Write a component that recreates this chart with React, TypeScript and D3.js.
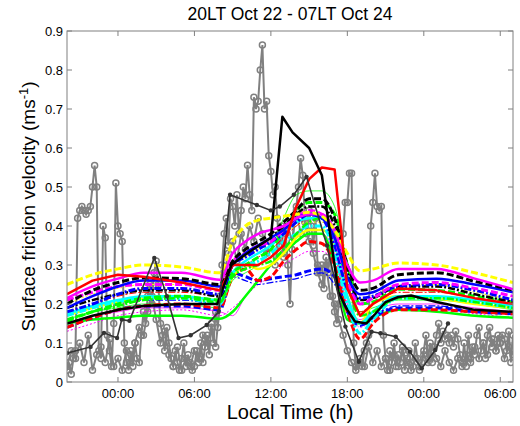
import React from "react";
import * as d3 from "d3";

// ---------- DATA ----------
const TITLE = "20LT Oct 22 - 07LT Oct 24";
const X_TICKS = [0, 6, 12, 18, 24, 30];
const X_TICK_LABELS = ["00:00", "06:00", "12:00", "18:00", "00:00", "06:00"];
const Y_TICKS = [0, 0.1, 0.2, 0.3, 0.4, 0.5, 0.6, 0.7, 0.8, 0.9];

// hours (relative to 00 LT Oct 23) of model output samples
const MODEL_HOURS = [-4, -2, 0, 2, 5, 8, 9, 10, 11, 12, 13, 14, 15, 16, 17, 18, 19, 20, 22, 25, 28, 31];

const yellowDashed = [0.25, 0.275, 0.29, 0.3, 0.295, 0.28, 0.36, 0.4, 0.415, 0.42, 0.425, 0.43, 0.435, 0.425, 0.39, 0.33, 0.285, 0.29, 0.305, 0.3, 0.28, 0.255];
const magentaSolid = [0.215, 0.245, 0.265, 0.28, 0.28, 0.262, 0.33, 0.36, 0.38, 0.39, 0.4, 0.42, 0.43, 0.43, 0.39, 0.3, 0.255, 0.26, 0.29, 0.29, 0.265, 0.238];
const blackDashed = [0.2, 0.235, 0.255, 0.267, 0.265, 0.25, 0.31, 0.34, 0.36, 0.38, 0.41, 0.44, 0.47, 0.47, 0.42, 0.3, 0.235, 0.24, 0.275, 0.28, 0.258, 0.236];
const blueSolid = [0.19, 0.22, 0.245, 0.26, 0.26, 0.245, 0.3, 0.33, 0.35, 0.37, 0.39, 0.42, 0.43, 0.42, 0.37, 0.27, 0.225, 0.23, 0.26, 0.265, 0.25, 0.23];
const magentaDashed = [0.21, 0.23, 0.245, 0.25, 0.25, 0.235, 0.31, 0.33, 0.35, 0.36, 0.39, 0.42, 0.44, 0.43, 0.37, 0.26, 0.2, 0.215, 0.25, 0.255, 0.24, 0.22];
const blueDashDot = [0.18, 0.2, 0.225, 0.24, 0.24, 0.225, 0.3, 0.32, 0.34, 0.36, 0.38, 0.41, 0.43, 0.42, 0.35, 0.24, 0.215, 0.22, 0.245, 0.25, 0.235, 0.21];
const blackDashDot = [0.19, 0.21, 0.225, 0.235, 0.235, 0.22, 0.3, 0.33, 0.35, 0.37, 0.4, 0.43, 0.45, 0.45, 0.4, 0.28, 0.21, 0.215, 0.245, 0.245, 0.225, 0.205];
const greenDashed = [0.16, 0.18, 0.2, 0.215, 0.22, 0.21, 0.28, 0.3, 0.32, 0.34, 0.39, 0.44, 0.46, 0.46, 0.43, 0.3, 0.2, 0.205, 0.238, 0.235, 0.22, 0.205];
const cyanDashed = [0.17, 0.19, 0.205, 0.215, 0.215, 0.2, 0.28, 0.3, 0.31, 0.33, 0.36, 0.38, 0.4, 0.4, 0.33, 0.2, 0.125, 0.16, 0.215, 0.215, 0.205, 0.19];
const greenDashDot = [0.155, 0.18, 0.195, 0.21, 0.215, 0.205, 0.27, 0.29, 0.3, 0.31, 0.34, 0.38, 0.41, 0.42, 0.38, 0.25, 0.17, 0.18, 0.215, 0.215, 0.205, 0.19];
const redDashed = [0.14, 0.165, 0.185, 0.195, 0.2, 0.19, 0.27, 0.29, 0.26, 0.27, 0.31, 0.34, 0.36, 0.355, 0.3, 0.18, 0.11, 0.15, 0.185, 0.185, 0.18, 0.175];
const blueDashed = [0.14, 0.165, 0.185, 0.195, 0.195, 0.185, 0.28, 0.27, 0.26, 0.265, 0.27, 0.275, 0.285, 0.29, 0.27, 0.18, 0.145, 0.165, 0.19, 0.19, 0.18, 0.175];
const greenSolid = [0.15, 0.16, 0.165, 0.17, 0.17, 0.162, 0.18, 0.22, 0.26, 0.3, 0.33, 0.36, 0.38, 0.38, 0.3, 0.16, 0.15, 0.165, 0.185, 0.18, 0.17, 0.165];
const yellowSolid = [0.17, 0.19, 0.205, 0.215, 0.22, 0.21, 0.27, 0.3, 0.29, 0.3, 0.33, 0.37, 0.39, 0.39, 0.35, 0.22, 0.15, 0.2, 0.22, 0.215, 0.2, 0.19];
const cyanSolid = [0.175, 0.195, 0.21, 0.22, 0.22, 0.21, 0.28, 0.31, 0.33, 0.35, 0.38, 0.41, 0.42, 0.42, 0.36, 0.22, 0.15, 0.18, 0.22, 0.22, 0.21, 0.195];
const magentaDotted = [0.13, 0.15, 0.17, 0.18, 0.185, 0.17, 0.19, 0.22, 0.25, 0.27, 0.3, 0.32, 0.335, 0.335, 0.3, 0.2, 0.14, 0.16, 0.185, 0.185, 0.175, 0.165];
const blueDashDotThin = [0.17, 0.19, 0.205, 0.21, 0.21, 0.2, 0.27, 0.26, 0.25, 0.255, 0.26, 0.265, 0.275, 0.28, 0.25, 0.18, 0.15, 0.17, 0.195, 0.195, 0.185, 0.175];
const greenThin = [0.16, 0.18, 0.19, 0.2, 0.2, 0.19, 0.26, 0.28, 0.3, 0.34, 0.42, 0.48, 0.49, 0.49, 0.45, 0.3, 0.18, 0.19, 0.21, 0.21, 0.2, 0.185];
const magentaThin = [0.15, 0.17, 0.18, 0.19, 0.19, 0.18, 0.17, 0.22, 0.26, 0.3, 0.33, 0.36, 0.38, 0.38, 0.33, 0.2, 0.16, 0.18, 0.2, 0.2, 0.19, 0.18];
const yellowDotted = [0.2, 0.225, 0.24, 0.25, 0.25, 0.24, 0.3, 0.32, 0.34, 0.36, 0.38, 0.4, 0.41, 0.41, 0.37, 0.25, 0.2, 0.22, 0.25, 0.25, 0.23, 0.21];
const redDashDotThin = [0.18, 0.2, 0.22, 0.23, 0.23, 0.22, 0.28, 0.3, 0.32, 0.34, 0.37, 0.4, 0.42, 0.42, 0.38, 0.26, 0.18, 0.2, 0.23, 0.23, 0.215, 0.2];
const redSolid = [0.225, 0.26, 0.275, 0.27, 0.255, 0.235, 0.3, 0.3, 0.3, 0.32, 0.35, 0.45, 0.52, 0.55, 0.545, 0.24, 0.17, 0.2, 0.24, 0.235, 0.215, 0.2];

// black solid model (own sample hours)
const blackSolidHours = [-4, -2, 0, 2, 5, 7.8, 8.9, 9.7, 12, 12.9, 13.7, 15, 16, 17.3, 18, 18.6, 19.5, 20.2, 21, 22, 23, 25, 28, 31];
const blackSolid = [0.15, 0.17, 0.185, 0.195, 0.2, 0.2, 0.3, 0.32, 0.37, 0.68, 0.64, 0.6, 0.53, 0.23, 0.185, 0.155, 0.15, 0.175, 0.205, 0.218, 0.222, 0.205, 0.185, 0.18];

// grey observations, 10-minute samples starting at -4 h
const OBS1_START = -4;
const OBS1_STEP = 1 / 6;
const obs1 = [
  0.03, 0.05, 0.02, 0.06, 0.08, 0.42,
  0.44, 0.45, 0.44, 0.43, 0.44, 0.45,
  0.50, 0.555, 0.50, 0.08, 0.06, 0.40,
  0.37, 0.12, 0.08, 0.04, 0.15, 0.51,
  0.40, 0.38, 0.36, 0.10, 0.05, 0.03,
  0.08, 0.04, 0.10, 0.06, 0.05, 0.12,
  0.18, 0.15, 0.22, 0.25, 0.20, 0.28,
  0.31, 0.25, 0.15, 0.12, 0.08, 0.14,
  0.10, 0.06, 0.04, 0.08, 0.05, 0.03,
  0.06, 0.10, 0.04, 0.07, 0.05, 0.03,
  0.04, 0.08, 0.06, 0.10, 0.05, 0.09,
  0.12, 0.07, 0.15, 0.10, 0.18, 0.14,
  0.22, 0.30, 0.38, 0.42, 0.35, 0.47,
  0.45, 0.40, 0.48, 0.38, 0.44, 0.50,
  0.47, 0.556, 0.48, 0.44, 0.73, 0.70,
  0.72, 0.80, 0.864, 0.70, 0.72, 0.58,
  0.54, 0.48, 0.50, 0.42, 0.35, 0.40,
  0.32, 0.38, 0.30, 0.20, 0.34, 0.42,
  0.45, 0.50, 0.574, 0.53, 0.42, 0.38,
  0.44, 0.40, 0.35, 0.42, 0.30, 0.28,
  0.30, 0.24, 0.32, 0.28, 0.35, 0.22,
  0.18, 0.15, 0.20, 0.30, 0.38, 0.46,
  0.46, 0.535, 0.535, 0.10, 0.04, 0.05,
  0.05, 0.04, 0.08, 0.10, 0.12, 0.40,
  0.46, 0.535, 0.45, 0.44, 0.45, 0.12,
  0.06, 0.03, 0.08, 0.05, 0.10, 0.04,
  0.07, 0.05, 0.09, 0.03, 0.06, 0.08,
  0.05, 0.04, 0.10, 0.06, 0.03, 0.05,
  0.08, 0.12, 0.06, 0.10, 0.05, 0.09,
  0.12, 0.15, 0.10, 0.13, 0.11, 0.12,
  0.10, 0.12, 0.09, 0.13, 0.11, 0.07,
  0.05, 0.10, 0.04, 0.12, 0.06, 0.09,
  0.07, 0.12, 0.14, 0.08, 0.10, 0.06,
  0.12, 0.14, 0.09, 0.11, 0.08, 0.12,
  0.10, 0.12, 0.11, 0.08, 0.13, 0.05,
  0.12,
];

// second grey record, 20-minute samples starting at -4 h
const OBS2_START = -4;
const OBS2_STEP = 1 / 3;
const obs2 = [
  0.04, 0.08, 0.06, 0.10, 0.05, 0.12, 0.03, 0.07, 0.09, 0.05, 0.11, 0.04,
  0.06, 0.03, 0.08, 0.05, 0.10, 0.14, 0.12, 0.18, 0.22, 0.16, 0.10, 0.13,
  0.07, 0.04, 0.09, 0.03, 0.06, 0.04, 0.08, 0.05, 0.12, 0.10, 0.14, 0.09,
  0.20, 0.28, 0.33, 0.36, 0.31, 0.38, 0.34, 0.40, 0.36, 0.42, 0.38, 0.33,
  0.36, 0.30, 0.38, 0.33, 0.40, 0.36, 0.44, 0.38, 0.41, 0.36, 0.33, 0.28,
  0.25, 0.30, 0.22, 0.20, 0.16, 0.12, 0.08, 0.05, 0.03, 0.06, 0.04, 0.09,
  0.05, 0.08, 0.04, 0.06, 0.03, 0.07, 0.04, 0.08, 0.05, 0.03, 0.06, 0.04,
  0.07, 0.05, 0.09, 0.06, 0.04, 0.08, 0.05, 0.03, 0.06, 0.04, 0.07, 0.05,
  0.09, 0.06, 0.10, 0.07, 0.11, 0.08, 0.10, 0.06, 0.09, 0.07,
];

// dark-grey sparse observations
const darkHours = [-4, -2.15, -1.1, -0.07, 0.3, 0.9, 2.85, 3.84, 4.75, 5.7, 6.96, 7.9, 8.8, 10.9, 12.0, 12.7, 13.8, 14.8, 16.4, 17.85, 18.9, 19.9, 20.6, 21.8, 22.9, 23.84, 24.9, 25.9];
const darkValues = [0.074, 0.09, 0.126, 0.113, 0.16, 0.157, 0.318, 0.22, 0.113, 0.12, 0.146, 0.18, 0.48, 0.454, 0.44, 0.45, 0.48, 0.526, 0.35, 0.142, 0.052, 0.129, 0.125, 0.116, 0.078, 0.035, 0.082, 0.15];

// ---------- STYLES ----------
const DASH = "7,3";
const DASHDOT = "7,2,2,2";
const DOT = "2,2";
const modelStyles = [
  { v: magentaDotted, c: "#ff00ff", w: 1, d: DOT },
  { v: magentaThin, c: "#ff00ff", w: 0.8, d: null },
  { v: blueDashDotThin, c: "#0000ff", w: 1.2, d: DASHDOT },
  { v: greenThin, c: "#00ff00", w: 0.8, d: null },
  { v: yellowDotted, c: "#ffff00", w: 1, d: DOT },
  { v: redDashDotThin, c: "#ff0000", w: 1, d: DASHDOT },
  { v: greenSolid, c: "#00ff00", w: 2.5, d: null },
  { v: blueDashed, c: "#0000ff", w: 3, d: DASH },
  { v: redDashed, c: "#ff0000", w: 3, d: DASH },
  { v: yellowSolid, c: "#ffff00", w: 2.5, d: null },
  { v: cyanSolid, c: "#00ffff", w: 2.5, d: null },
  { v: cyanDashed, c: "#00ffff", w: 3, d: DASHDOT },
  { v: greenDashDot, c: "#00ff00", w: 2.5, d: DASHDOT },
  { v: greenDashed, c: "#00ff00", w: 3, d: DASH },
  { v: blackDashDot, c: "#000000", w: 2.5, d: DASHDOT },
  { v: blueDashDot, c: "#0000ff", w: 3, d: DASHDOT },
  { v: magentaDashed, c: "#ff00ff", w: 3, d: DASH },
  { v: blueSolid, c: "#0000ff", w: 2.5, d: null },
  { v: blackDashed, c: "#000000", w: 3, d: DASH },
  { v: magentaSolid, c: "#ff00ff", w: 2.5, d: null },
  { v: yellowDashed, c: "#ffff00", w: 3, d: DASH },
];

const W = 520, H = 426;
const M = { left: 67, right: 513, top: 31, bottom: 382 };

export default function App() {
  const x = d3.scaleLinear().domain([-4, 31]).range([M.left, M.right]);
  const y = d3.scaleLinear().domain([0, 0.9]).range([M.bottom, M.top]);

  const smooth = d3.line<[number, number]>().x((d) => x(d[0])).y((d) => y(d[1])).curve(d3.curveMonotoneX);
  const straight = d3.line<[number, number]>().x((d) => x(d[0])).y((d) => y(d[1]));

  const o1: [number, number][] = obs1.map((v, i) => [OBS1_START + i * OBS1_STEP, v]);
  const o2: [number, number][] = obs2.map((v, i) => [OBS2_START + i * OBS2_STEP, v]);
  const dk: [number, number][] = darkHours.map((h, i) => [h, darkValues[i]]);
  const redPts: [number, number][] = MODEL_HOURS.map((h, j) => [h, redSolid[j]]);
  const blackPts: [number, number][] = blackSolidHours.map((h, j) => [h, blackSolid[j]]);

  const grey = "#808080";
  const font = "Arial, 'Liberation Sans', sans-serif";

  return (
    <svg width={W} height={H} style={{ position: "absolute", left: 0, top: 0, background: "#fff" }} fontFamily={font}>
      <defs>
        <clipPath id="plot">
          <rect x={M.left} y={M.top} width={M.right - M.left} height={M.bottom - M.top} />
        </clipPath>
      </defs>
      <rect x={0} y={0} width={W} height={H} fill="#fff" />
      <g clipPath="url(#plot)">
        {[o2, o1].map((pts, k) => (
          <g key={k}>
            <path d={straight(pts) || ""} fill="none" stroke={grey} strokeWidth={2} />
            {pts.map((p, i) => (
              <circle key={i} cx={x(p[0])} cy={y(p[1])} r={3} fill="none" stroke={grey} strokeWidth={1.5} />
            ))}
          </g>
        ))}
        {modelStyles.map((m, i) => {
          const pts: [number, number][] = MODEL_HOURS.map((h, j) => [h, m.v[j]]);
          return (
            <path
              key={i}
              d={smooth(pts) || ""}
              fill="none"
              stroke={m.c}
              strokeWidth={m.w}
              strokeDasharray={m.d || undefined}
              strokeLinejoin="round"
            />
          );
        })}
        <path d={straight(redPts) || ""} fill="none" stroke="#ff0000" strokeWidth={2.5} strokeLinejoin="round" />
        <path d={straight(blackPts) || ""} fill="none" stroke="#000000" strokeWidth={2.5} strokeLinejoin="round" />
        <path d={straight(dk) || ""} fill="none" stroke="#333333" strokeWidth={1.6} />
        {dk.map((p, i) => (
          <circle key={i} cx={x(p[0])} cy={y(p[1])} r={2.2} fill="#333333" />
        ))}
      </g>
      {/* box */}
      <rect x={M.left} y={M.top} width={M.right - M.left} height={M.bottom - M.top} fill="none" stroke={grey} strokeWidth={1} />
      {/* y ticks */}
      {Y_TICKS.map((t, i) => (
        <g key={"y" + i}>
          <line x1={M.left} x2={M.left + 5} y1={y(t)} y2={y(t)} stroke={grey} />
          <line x1={M.right} x2={M.right - 5} y1={y(t)} y2={y(t)} stroke={grey} />
          <text x={M.left - 4} y={y(t) + 4.5} textAnchor="end" fontSize={13} fill="#000">
            {t === 0 ? "0" : d3.format(".1f")(t)}
          </text>
        </g>
      ))}
      {/* x ticks */}
      {X_TICKS.map((t, i) => (
        <g key={"x" + i}>
          <line x1={x(t)} x2={x(t)} y1={M.bottom} y2={M.bottom - 5} stroke={grey} />
          <line x1={x(t)} x2={x(t)} y1={M.top} y2={M.top + 5} stroke={grey} />
          <text x={x(t)} y={398} textAnchor="middle" fontSize={13} fill="#000">
            {X_TICK_LABELS[i]}
          </text>
        </g>
      ))}
      <text x={(M.left + M.right) / 2} y={20} textAnchor="middle" fontSize={17.5} fill="#000">
        {TITLE}
      </text>
      <text x={(M.left + M.right) / 2} y={419} textAnchor="middle" fontSize={20} fill="#000">
        Local Time (h)
      </text>
      <text transform={`translate(35, ${(M.top + M.bottom) / 2}) rotate(-90)`} textAnchor="middle" fontSize={19} fill="#000">
        Surface friction velocity (ms
        <tspan dy={-7} fontSize={13}>-1</tspan>
        <tspan dy={7}>)</tspan>
      </text>
    </svg>
  );
}
